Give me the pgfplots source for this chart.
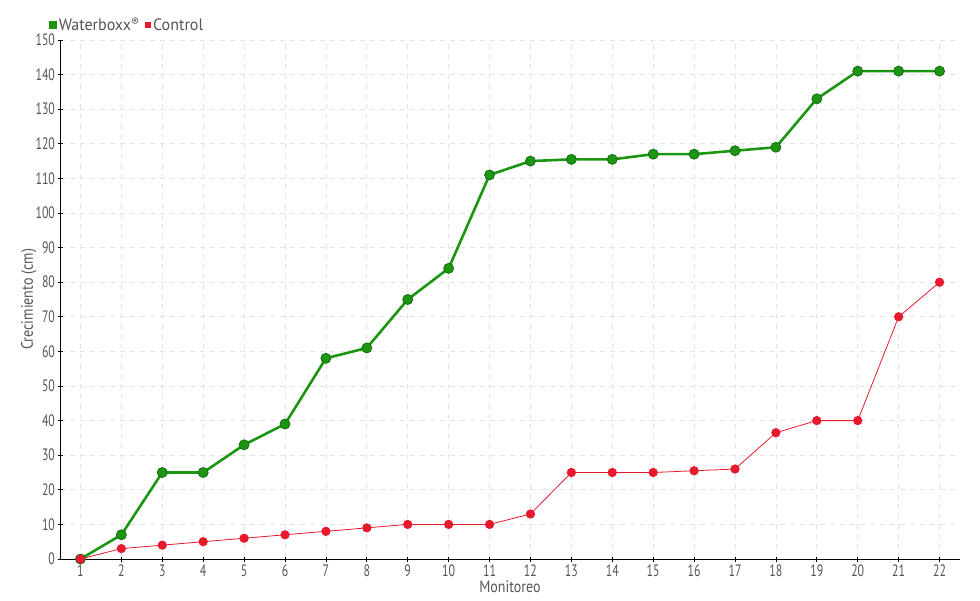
\documentclass[border=0pt]{standalone}
\usepackage{pgfplots}
\pgfplotsset{compat=1.18}
\usepackage{fontspec}
\setmainfont{PT Sans}[FakeStretch=0.72]
\newfontfamily\lblfont{PT Sans}[FakeStretch=0.85]
\newfontfamily\legfont{PT Sans}[FakeStretch=0.97]
\definecolor{wgreen}{RGB}{28,150,18}
\definecolor{wgreenD}{RGB}{20,110,15}
\definecolor{cred}{RGB}{232,25,45}
\definecolor{txt}{RGB}{85,85,85}
\begin{document}
\begin{tikzpicture}
\useasboundingbox (0pt,0pt) rectangle (980pt,600pt);
\begin{axis}[
  at={(60pt,41pt)}, anchor=south west,
  scale only axis, width=900pt, height=519pt,
  xmin=0.5, xmax=22.5, ymin=0, ymax=150,
  xtick={1,...,22}, ytick={0,10,...,150},
  axis x line*=bottom, axis y line*=left,
  axis line style={black, line width=1pt},
  tick style={black, line width=0.8pt},
  tick align=center, major tick length=5pt,
  grid=major,
  major grid style={dashed, dash pattern=on 5pt off 5pt, gray!22, line width=0.8pt},
  font=\fontsize{16.5}{18}\selectfont,
  ticklabel style={text=txt, font=\fontsize{16.5}{18}\selectfont},
  /pgf/number format/assume math mode=true,
  yticklabel style={xshift=1pt},
  xlabel={Monitoreo},
  xlabel style={text=txt, font=\lblfont\fontsize{16.5}{18}\selectfont, at={(0.5,0)}, anchor=north, yshift=-18pt},
  ylabel={Crecimiento (cm)},
  ylabel style={text=txt, font=\lblfont\fontsize{16.5}{18}\selectfont, at={(0,0.5)}, anchor=south, yshift=20pt},
  legend columns=2,
  legend style={draw=none, fill=none, at={(0,1)}, anchor=south west, xshift=-11pt, yshift=6pt, font=\legfont\fontsize{16.5}{18}\selectfont, text=txt, /tikz/every even column/.append style={column sep=4pt}, inner sep=0pt},
  legend cell align=left,
  clip=false,
]
\addplot[wgreen, line width=2.6pt, mark=*, mark size=5pt, mark options={fill=wgreen, draw=wgreenD, line width=0.8pt},
  legend image code/.code={\fill[wgreen] (0pt,-2.5pt) rectangle (5pt,2.5pt);}]
coordinates {(1,0)(2,7)(3,25)(4,25)(5,33)(6,39)(7,58)(8,61)(9,75)(10,84)(11,111)(12,115)(13,115.5)(14,115.5)(15,117)(16,117)(17,118)(18,119)(19,133)(20,141)(21,141)(22,141)};
\addlegendentry{Waterboxx{\fontsize{12}{12}\selectfont\raisebox{3.5pt}{®}}}
\addplot[cred, line width=0.8pt, mark=*, mark size=4.2pt, mark options={fill=cred, draw=cred},
  legend image code/.code={\fill[cred] (0pt,-2.5pt) rectangle (5pt,2.5pt);}]
coordinates {(1,0)(2,3)(3,4)(4,5)(5,6)(6,7)(7,8)(8,9)(9,10)(10,10)(11,10)(12,13)(13,25)(14,25)(15,25)(16,25.5)(17,26)(18,36.5)(19,40)(20,40)(21,70)(22,80)};
\addlegendentry{Control}
\end{axis}
\end{tikzpicture}
\end{document}
